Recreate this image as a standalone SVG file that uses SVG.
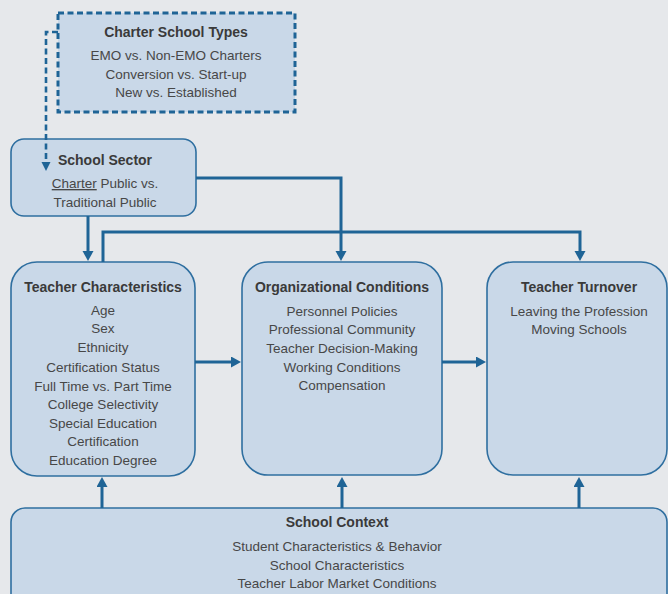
<svg xmlns="http://www.w3.org/2000/svg" width="668" height="594" viewBox="0 0 668 594">
<style>
.box{fill:#c9d8e8;stroke:#2f6fa0;stroke-width:1.6}
.t{font-family:"Liberation Sans",Arial,sans-serif;font-size:14px;font-weight:bold;fill:#3a3a3a;text-anchor:middle}
.l{font-family:"Liberation Sans",Arial,sans-serif;font-size:13.5px;fill:#474747;text-anchor:middle}
.c{fill:none;stroke:#1f6496;stroke-width:3}
.d{fill:none;stroke:#1f6496;stroke-width:2.6;stroke-dasharray:6 3.5}
</style>
<defs>
<marker id="ah" markerUnits="userSpaceOnUse" markerWidth="12" markerHeight="12" refX="6" refY="5.5" orient="auto">
<path d="M0,0 L10,5.5 L0,11 z" fill="#1f6496"/>
</marker>
<marker id="ahs" markerUnits="userSpaceOnUse" markerWidth="10" markerHeight="10" refX="5" refY="4.5" orient="auto">
<path d="M0,0 L9,4.5 L0,9 z" fill="#1f6496"/>
</marker>
</defs>
<rect width="668" height="594" fill="#e6e8eb"/>

<g id="charter-types">
<rect x="58" y="13" width="237" height="99" fill="#c9d8e8" stroke="#1f6496" stroke-width="3" stroke-dasharray="6 3.5"/>
<text class="t" x="176" y="37">Charter School Types</text>
<text class="l" x="176" y="60">EMO vs. Non-EMO Charters</text>
<text class="l" x="176" y="79">Conversion vs. Start-up</text>
<text class="l" x="176" y="97">New vs. Established</text>
</g>

<g id="school-sector">
<rect class="box" x="11" y="139" width="185" height="77" rx="13"/>
<text class="t" x="105" y="165">School Sector</text>
<text class="l" x="105" y="188"><tspan text-decoration="underline">Charter</tspan> Public vs.</text>
<text class="l" x="105" y="207">Traditional Public</text>
</g>

<g id="teacher-characteristics">
<rect class="box" x="11" y="262" width="184" height="214" rx="26"/>
<text class="t" x="103" y="292">Teacher Characteristics</text>
<text class="l" x="103" y="315">Age</text>
<text class="l" x="103" y="333">Sex</text>
<text class="l" x="103" y="352">Ethnicity</text>
<text class="l" x="103" y="372">Certification Status</text>
<text class="l" x="103" y="391">Full Time vs. Part Time</text>
<text class="l" x="103" y="409">College Selectivity</text>
<text class="l" x="103" y="428">Special Education</text>
<text class="l" x="103" y="446">Certification</text>
<text class="l" x="103" y="465">Education Degree</text>
</g>

<g id="organizational-conditions">
<rect class="box" x="242" y="262" width="200" height="213" rx="26"/>
<text class="t" x="342" y="292">Organizational Conditions</text>
<text class="l" x="342" y="316">Personnel Policies</text>
<text class="l" x="342" y="334">Professional Community</text>
<text class="l" x="342" y="353">Teacher Decision-Making</text>
<text class="l" x="342" y="372">Working Conditions</text>
<text class="l" x="342" y="390">Compensation</text>
</g>

<g id="teacher-turnover">
<rect class="box" x="487" y="262" width="180" height="213" rx="26"/>
<text class="t" x="579" y="292">Teacher Turnover</text>
<text class="l" x="579" y="316">Leaving the Profession</text>
<text class="l" x="579" y="334">Moving Schools</text>
</g>

<g id="school-context">
<rect class="box" x="11" y="508" width="656" height="100" rx="14"/>
<text class="t" x="337" y="527">School Context</text>
<text class="l" x="337" y="551">Student Characteristics &amp; Behavior</text>
<text class="l" x="337" y="570">School Characteristics</text>
<text class="l" x="337" y="588">Teacher Labor Market Conditions</text>
</g>

<g id="connectors">
<path class="c" d="M88 216 V257" marker-end="url(#ah)"/>
<path class="c" d="M196 178 H341 V257" marker-end="url(#ah)"/>
<path class="c" d="M103 262 V232 H580 V257" marker-end="url(#ah)"/>
<path class="c" d="M195 362 H237" marker-end="url(#ah)"/>
<path class="c" d="M442 362 H482" marker-end="url(#ah)"/>
<path class="c" d="M102 508 V481" marker-end="url(#ah)"/>
<path class="c" d="M342 508 V481" marker-end="url(#ah)"/>
<path class="c" d="M579 508 V481" marker-end="url(#ah)"/>
<path class="d" d="M58 32 H46 V167" marker-end="url(#ahs)"/>
</g>
</svg>
